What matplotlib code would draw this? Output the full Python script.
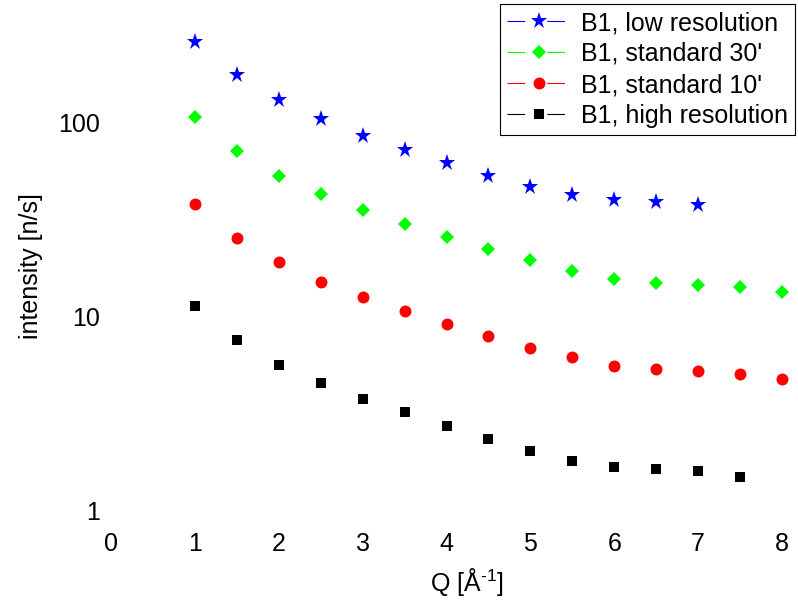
import matplotlib
matplotlib.use("Agg")
import matplotlib.pyplot as plt
from matplotlib.lines import Line2D
from matplotlib.ticker import FixedLocator, NullLocator

plt.rcParams['font.family'] = ['Liberation Sans', 'DejaVu Sans']
plt.rcParams['mathtext.fontset'] = 'custom'
plt.rcParams['mathtext.rm'] = 'Liberation Sans'
plt.rcParams['lines.scale_dashes'] = False

# ---- data ----
q_low = [1, 1.5, 2, 2.5, 3, 3.5, 4, 4.5, 5, 5.5, 6, 6.5, 7]
i_low = [258, 175, 130, 104, 84.7, 71.7, 61.5, 52.7, 46.2, 42.0, 39.6, 38.7, 37.3]

q_std30 = [1, 1.5, 2, 2.5, 3, 3.5, 4, 4.5, 5, 5.5, 6, 6.5, 7, 7.5, 8]
i_std30 = [106, 70.9, 52.7, 42.5, 35.2, 29.8, 25.5, 22.1, 19.4, 17.1, 15.5, 14.8, 14.4, 14.1, 13.3]

q_std10 = [1, 1.5, 2, 2.5, 3, 3.5, 4, 4.5, 5, 5.5, 6, 6.5, 7, 7.5, 8]
i_std10 = [37.8, 25.2, 19.0, 15.0, 12.5, 10.6, 9.1, 7.88, 6.84, 6.15, 5.53, 5.33, 5.2, 5.02, 4.73]

q_high = [1, 1.5, 2, 2.5, 3, 3.5, 4, 4.5, 5, 5.5, 6, 6.5, 7, 7.5]
i_high = [11.3, 7.52, 5.59, 4.51, 3.73, 3.2, 2.71, 2.32, 2.01, 1.79, 1.67, 1.63, 1.59, 1.48]

labels = ["B1, low resolution", "B1, standard 30'", "B1, standard 10'", "B1, high resolution"]
xticks = [0, 1, 2, 3, 4, 5, 6, 7, 8]
yticks = [1, 10, 100]
ytick_labels = ["1", "10", "100"]

W, H = 798, 601
fig = plt.figure(figsize=(W / 100, H / 100), dpi=100)
left_px, right_px, bottom_px, top_px = 111, 782, 510, 2
ax = fig.add_axes([left_px / W, 1 - bottom_px / H, (right_px - left_px) / W, (bottom_px - top_px) / H])
ax.set_yscale('log')
ax.set_xlim(0, 8)
ax.set_ylim(1, 10 ** ((bottom_px - top_px) / 194.0))

styles = [
    dict(color='#0000ff', marker='*', ms=12.5),
    dict(color='#00ff00', marker='D', ms=7.3),
    dict(color='#ff0000', marker='o', ms=8.6),
    dict(color='#000000', marker='s', ms=7.9),
]
series = [(q_low, i_low), (q_std30, i_std30), (q_std10, i_std10), (q_high, i_high)]

for (x, y), st in zip(series, styles):
    ax.plot(x, y, linestyle='none', marker=st['marker'], markersize=st['ms'],
            color=st['color'], markeredgewidth=0, clip_on=False)

for s in ax.spines.values():
    s.set_visible(False)
ax.xaxis.set_major_locator(FixedLocator(xticks))
ax.yaxis.set_major_locator(FixedLocator(yticks))
ax.yaxis.set_minor_locator(NullLocator())
ax.set_yticklabels(ytick_labels)
ax.tick_params(axis='both', length=0, labelsize=18)
ax.tick_params(axis='x', pad=16)
ax.tick_params(axis='y', pad=8)

fig.text(467 / W, 1 - 582 / H, "Q [Å$^{\\mathregular{\u2010}1}$]", fontsize=18, ha='center', va='center')
fig.text(31 / W, 1 - 266 / H, "intensity [n/s]", fontsize=18, ha='center', va='center', rotation=90)

handles = []
for st in styles:
    handles.append(Line2D([0], [0], color=st['color'], linewidth=0.8, marker=st['marker'],
                          markersize=st['ms'], markerfacecolor=st['color'],
                          markeredgewidth=0, linestyle=(0, (12.7, 16, 12.7, 60))))
leg = fig.legend(handles, labels, loc='upper right', bbox_to_anchor=(795 / W, 1 - 4 / H),
                 fontsize=18, frameon=True, fancybox=False, framealpha=1,
                 edgecolor='black', borderpad=0.28, handlelength=2.5, handletextpad=0.45,
                 labelspacing=0.28, borderaxespad=0)
leg.get_frame().set_linewidth(0.8)

fig.savefig("out.png", dpi=100)
